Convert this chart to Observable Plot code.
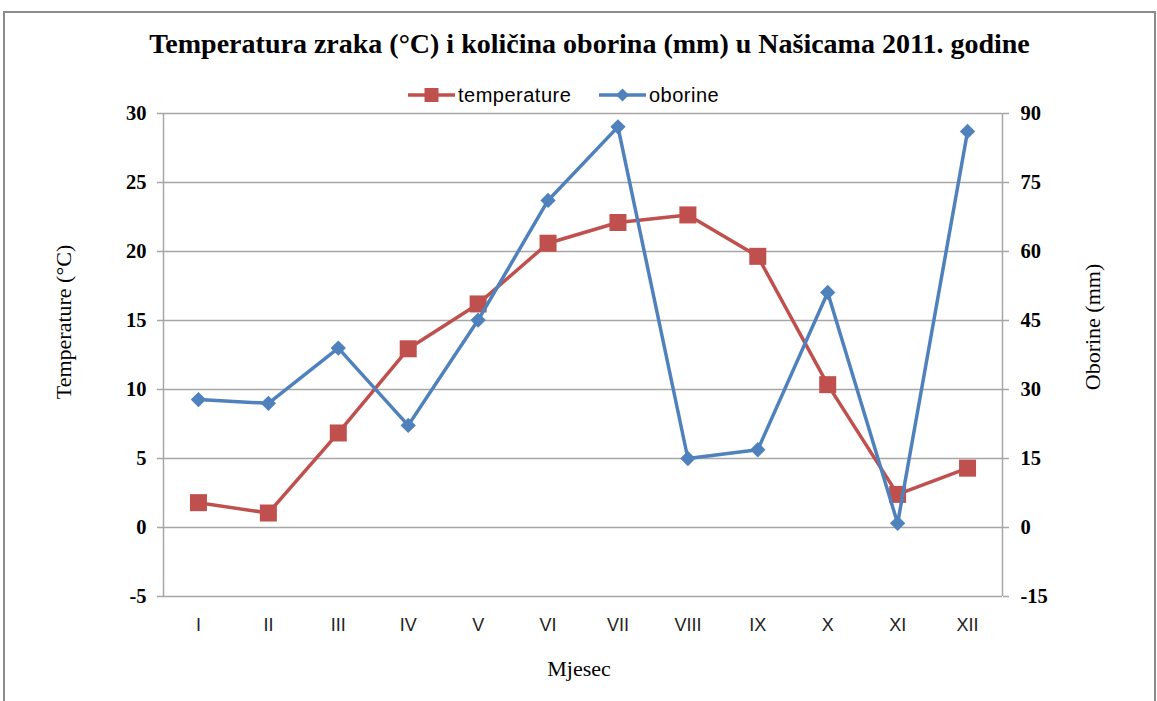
<!DOCTYPE html>
<html>
<head>
<meta charset="utf-8">
<script src="https://cdn.jsdelivr.net/npm/d3@7"></script>
<script src="https://cdn.jsdelivr.net/npm/@observablehq/plot@0.6"></script>
<style>
  body { margin: 0; background: #fff; }
  #wrap { position: relative; width: 1157px; height: 701px; overflow: hidden; }
  #wrap > svg { position: absolute; left: 0; top: 0; }
  #frame { position: absolute; left: 3px; top: 11px; width: 1149px; height: 720px; border: 2px solid #8c8c8c; }
  #title { position: absolute; top: 28px; left: 11px; width: 1157px; text-align: center;
           font: bold 28px "Liberation Serif", "DejaVu Serif", serif; color: #000; white-space: nowrap; }
  .leg { position: absolute; top: 84px; height: 22px; display: flex; align-items: center;
         font: 20px "Liberation Sans", Arial, sans-serif; letter-spacing: 0.5px; color: #000; }
  .leg svg { display: block; margin-right: 3px; }
</style>
</head>
<body>
<div id="wrap"></div>
<script>
// ---- data ----
const months = ["I", "II", "III", "IV", "V", "VI", "VII", "VIII", "IX", "X", "XI", "XII"];
const temperature = [1.8, 1.05, 6.85, 12.95, 16.2, 20.6, 22.1, 22.65, 19.65, 10.35, 2.4, 4.3];
const oborine = [27.8, 27.0, 39.0, 22.2, 45.1, 71.1, 87.1, 15.0, 16.9, 51.1, 0.9, 86.1];
const leftTicks = [-5, 0, 5, 10, 15, 20, 25, 30];
const rightTicks = [-15, 0, 15, 30, 45, 60, 75, 90];
const seriesNames = ["temperature", "oborine"];
const titleText = "Temperatura zraka (°C) i količina oborina (mm) u Našicama 2011. godine";
const yLeftLabel = "Temperature (°C)";
const yRightLabel = "Oborine (mm)";
const xLabel = "Mjesec";

const red = "#C0504D", blue = "#4F81BD", gridColor = "#a6a6a6";

// map right-axis values onto the left-axis scale
const l0 = leftTicks[0], l1 = leftTicks[leftTicks.length - 1];
const r0 = rightTicks[0], r1 = rightTicks[rightTicks.length - 1];
const toLeft = v => l0 + (v - r0) * (l1 - l0) / (r1 - r0);
const toRight = v => r0 + (v - l0) * (r1 - r0) / (l1 - l0);

const rows = months.map((m, i) => ({ i, m, temp: temperature[i], obor: oborine[i] }));

const serif = "Liberation Serif, DejaVu Serif, serif";
const sans = "Liberation Sans, Arial, sans-serif";

const chart = Plot.plot({
  width: 1157,
  height: 701,
  marginLeft: 163,
  marginRight: 155,
  marginTop: 113,
  marginBottom: 105,
  x: { domain: [-0.5, months.length - 0.5] },
  y: { domain: [l0, l1] },
  marks: [
    Plot.gridY(leftTicks, { stroke: gridColor, strokeOpacity: 1, strokeWidth: 1.5 }),
    Plot.ruleX([-0.5, months.length - 0.5], { stroke: gridColor, strokeWidth: 1.5 }),
    Plot.axisY({
      anchor: "left", ticks: leftTicks, tickFormat: d => String(d),
      tickSize: 6, tickPadding: 11, stroke: gridColor, strokeWidth: 1.5,
      fontSize: 20.5, fontWeight: "bold", fontFamily: serif, fill: "#000", label: null
    }),
    Plot.axisY({
      anchor: "right", ticks: rightTicks.map(toLeft), tickFormat: d => String(Math.round(toRight(d))),
      tickSize: 6, tickPadding: 12, stroke: gridColor, strokeWidth: 1.5,
      fontSize: 20.5, fontWeight: "bold", fontFamily: serif, fill: "#000", label: null
    }),
    Plot.axisX({
      ticks: months.map((m, i) => i), tickFormat: i => months[i],
      tickSize: 0, tickPadding: 22, fontSize: 18, fontFamily: sans, fill: "#222", label: null
    }),
    Plot.text([yLeftLabel], {
      text: d => d, frameAnchor: "left", rotate: -90, dx: -100, dy: -33,
      textAnchor: "middle", lineAnchor: "middle", fontSize: 22, fontFamily: serif, fill: "#000"
    }),
    Plot.text([yRightLabel], {
      text: d => d, frameAnchor: "right", rotate: -90, dx: 90, dy: -28,
      textAnchor: "middle", lineAnchor: "middle", fontSize: 22, fontFamily: serif, fill: "#000"
    }),
    Plot.text([xLabel], {
      text: d => d, frameAnchor: "bottom", dx: -4, dy: 72,
      textAnchor: "middle", lineAnchor: "middle", fontSize: 22, fontFamily: serif, fill: "#000"
    }),
    Plot.line(rows, { x: "i", y: "temp", stroke: red, strokeWidth: 3.5 }),
    Plot.dot(rows, { x: "i", y: "temp", symbol: "square", r: 9.6, fill: red, stroke: null }),
    Plot.line(rows, { x: "i", y: d => toLeft(d.obor), stroke: blue, strokeWidth: 3.5 }),
    Plot.dot(rows, { x: "i", y: d => toLeft(d.obor), symbol: "diamond2", r: 6.9, fill: blue, stroke: null })
  ]
});

const wrap = document.getElementById("wrap");
wrap.appendChild(chart);

const frame = document.createElement("div");
frame.id = "frame";
wrap.appendChild(frame);

const title = document.createElement("div");
title.id = "title";
title.textContent = titleText;
wrap.appendChild(title);

function legendItem(name, color, marker, left) {
  const el = document.createElement("div");
  el.className = "leg";
  el.style.left = left + "px";
  const ns = "http://www.w3.org/2000/svg";
  const s = document.createElementNS(ns, "svg");
  s.setAttribute("width", 47); s.setAttribute("height", 22);
  const ln = document.createElementNS(ns, "line");
  ln.setAttribute("x1", 0); ln.setAttribute("x2", 47); ln.setAttribute("y1", 11); ln.setAttribute("y2", 11);
  ln.setAttribute("stroke", color); ln.setAttribute("stroke-width", 3.5);
  s.appendChild(ln);
  let mk;
  if (marker === "square") {
    mk = document.createElementNS(ns, "rect");
    mk.setAttribute("x", 16.5); mk.setAttribute("y", 4); mk.setAttribute("width", 14); mk.setAttribute("height", 14);
  } else {
    mk = document.createElementNS(ns, "path");
    mk.setAttribute("d", "M23.5,4.5L30,11L23.5,17.5L17,11Z");
  }
  mk.setAttribute("fill", color);
  s.appendChild(mk);
  el.appendChild(s);
  const t = document.createElement("span");
  t.textContent = name;
  el.appendChild(t);
  wrap.appendChild(el);
}
legendItem(seriesNames[0], red, "square", 408);
legendItem(seriesNames[1], blue, "diamond", 599);
</script>
</body>
</html>
